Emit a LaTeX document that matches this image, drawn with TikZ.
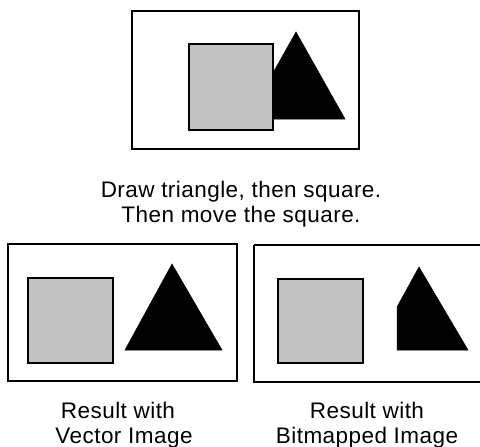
\documentclass[tikz,border=0pt]{standalone}
\usepackage{fontspec}
\setmainfont[LetterSpace=2]{Liberation Sans}
\begin{document}
\begin{tikzpicture}[x=1pt,y=-1pt,
  frame/.style={draw=black,line width=1.4pt},
  sq/.style={draw=black,line width=2pt,fill=black!24},
  shp/.style={fill=black,draw=black,line width=0.5pt,line join=miter},
  lbl/.style={font=\fontsize{22.5}{25}\selectfont,anchor=base,inner sep=0pt}]
\useasboundingbox[fill=white] (0,0) rectangle (480,447);
% top
\draw[frame] (132,11) rectangle (359,149);
\coordinate (ta) at (247,119); \coordinate (tb) at (296,32); \coordinate (tc) at (345,119);
\filldraw[shp] (ta) -- (tb) -- (tc) -- cycle;
\draw[sq] (189,44) rectangle (273,130);
\node[lbl] (l1) at (241,197) {Draw triangle, then square.};
\node[lbl] (l2) at (241,222) {Then move the square.};
% bottom left
\draw[frame] (8,244) rectangle (237,381);
\draw[sq] (28,278) rectangle (113,363);
\coordinate (va) at (125,350); \coordinate (vb) at (172,264); \coordinate (vc) at (222,350);
\filldraw[shp] (va) -- (vb) -- (vc) -- cycle;
\node[lbl] (l3) at (118,418) {Result with};
\node[lbl] (l4) at (124,443) {Vector Image};
% bottom right
\draw[frame] (254,245) -- (482,245) (254,245) -- (254,382) -- (482,382);
\draw[sq] (278,279) rectangle (363,363);
\coordinate (ba) at (397,307); \coordinate (bb) at (419,267);
\coordinate (bc) at (468,350); \coordinate (bd) at (397,350);
\filldraw[shp] (ba) -- (bb) -- (bc) -- (bd) -- cycle;
\node[lbl] (l5) at (367,418) {Result with};
\node[lbl] (l6) at (367,443) {Bitmapped Image};
\end{tikzpicture}
\end{document}
